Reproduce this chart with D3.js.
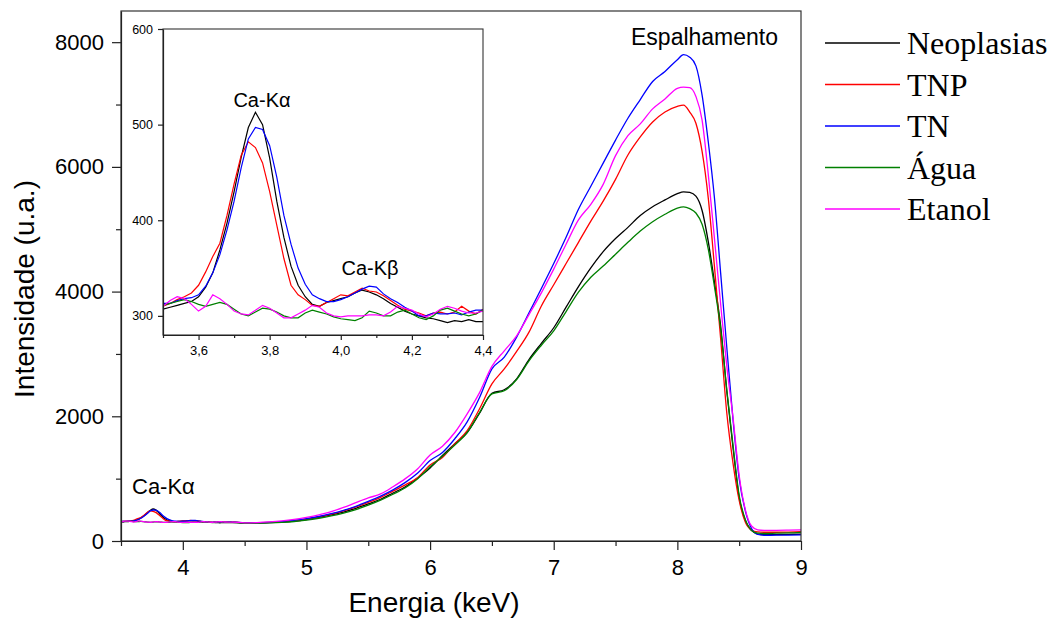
<!DOCTYPE html>
<html>
<head>
<meta charset="utf-8">
<script src="https://cdn.jsdelivr.net/npm/d3@7"></script>
<style>
html, body { margin: 0; padding: 0; background: #fff; }
svg { display: block; }
</style>
</head>
<body>
<script>
// Energy grid (keV): fine steps in the Ca region, coarser above, finer again on the edge
const energy = [
  3.50, 3.52, 3.54, 3.56, 3.58, 3.60, 3.62, 3.64, 3.66, 3.68, 3.70, 3.72, 3.74, 3.76, 3.78, 3.80,
  3.82, 3.84, 3.86, 3.88, 3.90, 3.92, 3.94, 3.96, 3.98, 4.00, 4.02, 4.04, 4.06, 4.08, 4.10, 4.12,
  4.14, 4.16, 4.18, 4.20, 4.22, 4.24, 4.26, 4.28, 4.30, 4.32, 4.34, 4.36, 4.38, 4.40,
  4.5, 4.6, 4.7, 4.8, 4.9, 5.0, 5.1, 5.2, 5.3, 5.4, 5.5, 5.6, 5.7, 5.8, 5.9, 6.0, 6.1, 6.2,
  6.3, 6.4, 6.5, 6.6, 6.7, 6.8, 6.9, 7.0, 7.1, 7.2, 7.3, 7.4, 7.5, 7.6, 7.7, 7.8, 7.9, 8.0,
  8.05, 8.10, 8.15, 8.20, 8.25, 8.30, 8.35, 8.40, 8.45, 8.50, 8.55, 8.60, 8.65, 8.70,
  8.8, 8.9, 9.0
];

const neoplasias = [
  307, 309, 311, 313, 315, 320, 330, 345, 369, 397, 430, 466, 497, 513, 500, 465,
  420, 382, 352, 332, 320, 312, 310, 314, 316, 318, 320, 324, 327, 325, 322, 318,
  313, 309, 305, 302, 300, 298, 297, 295, 293, 295, 294, 296, 294, 294,
  288, 290, 295, 305, 320, 345, 378, 418, 465, 525, 595, 670, 770, 870, 1010, 1170, 1370, 1560,
  1740, 2050, 2370, 2425, 2600, 2910, 3170, 3420, 3750, 4080, 4380, 4640, 4850, 5030, 5220, 5360, 5470, 5570,
  5600, 5590, 5530, 5300, 4800, 4150, 3450, 2400, 1500, 700, 330, 170, 112, 102,
  103, 105, 108
];
const tnp = [
  310, 313, 317, 320, 324, 332, 346, 362, 376, 405, 438, 468, 482, 476, 460, 430,
  395, 360, 332, 322, 317, 311, 310, 314, 318, 322, 321, 325, 329, 326, 325, 321,
  316, 311, 307, 305, 303, 300, 303, 304, 302, 304, 310, 305, 302, 307,
  290, 292, 298, 310, 327, 352, 388, 430, 483, 548, 620, 700, 800, 900, 1020, 1220, 1340, 1560,
  1770, 2120, 2520, 2760, 3040, 3350, 3770, 4110, 4450, 4790, 5130, 5450, 5800, 6190, 6480, 6720, 6880, 6970,
  6990, 6880, 6700, 6250, 5500, 4400, 3250, 2050, 1250, 650, 300, 175, 145, 140,
  140, 143, 148
];
const tn = [
  313, 313, 316, 318, 319, 322, 331, 345, 364, 390, 420, 455, 485, 497, 495, 478,
  445, 405, 375, 350, 333, 322, 318, 315, 315, 317, 320, 324, 328, 331, 330, 323,
  318, 314, 309, 305, 300, 300, 303, 302, 302, 303, 301, 304, 306, 306,
  290, 293, 300, 312, 330, 358, 393, 438, 492, 557, 635, 720, 820, 940, 1090, 1290, 1420, 1640,
  1910, 2300, 2760, 2950, 3270, 3660, 4050, 4450, 4870, 5320, 5690, 6060, 6430, 6780, 7080, 7370, 7530, 7720,
  7800, 7760, 7620, 7150, 6400, 5500, 4300, 3100, 1950, 1000, 480, 200, 105, 92,
  93, 95, 98
];
const agua = [
  311, 313, 315, 317, 315, 312, 310, 312, 314, 312, 307, 302, 300, 304, 308, 307,
  304, 300, 298, 298, 303, 306, 304, 302, 299, 297, 296, 295, 298, 305, 303, 300,
  300, 304, 306, 302, 298, 296, 300, 306, 308, 305, 302, 300, 302, 306,
  285, 287, 292, 300, 313, 335, 365, 402, 448, 505, 575, 655, 750, 855, 1000, 1190, 1360, 1540,
  1740, 2060, 2360, 2410, 2590, 2890, 3140, 3370, 3680, 3990, 4230, 4410, 4600, 4790, 4970, 5120, 5240, 5340,
  5360, 5330, 5260, 5080, 4680, 4080, 3400, 2420, 1540, 730, 340, 170, 125, 120,
  125, 130, 140
];
const etanol = [
  310, 316, 320, 318, 312, 305, 310, 322, 318, 312, 305, 302, 301, 306, 311, 308,
  303, 298, 298, 302, 306, 311, 309, 303, 300, 299, 300, 300, 300, 301, 301, 300,
  304, 310, 308, 306, 302, 299, 302, 307, 310, 308, 305, 303, 303, 305,
  292, 296, 306, 322, 346, 380, 420, 470, 538, 615, 690, 755, 870, 1000, 1160, 1380, 1520, 1740,
  2040, 2380, 2800, 3050, 3290, 3630, 3980, 4360, 4760, 5150, 5400, 5720, 6180, 6500, 6690, 6930, 7090, 7260,
  7280, 7270, 7130, 6750, 5880, 4850, 3800, 2800, 1980, 1050, 500, 240, 180, 172,
  172, 175, 180
];

const seriesNames = ["Neoplasias", "TNP", "TN", "Água", "Etanol"];
const seriesValues = [neoplasias, tnp, tn, agua, etanol];
const seriesColors = ["#000000", "#ff0000", "#0000ff", "#008000", "#ff00ff"];

const xTicks = [4, 5, 6, 7, 8, 9];
const xMinor = [3.5, 4.5, 5.5, 6.5, 7.5, 8.5];
const yTicks = [0, 2000, 4000, 6000, 8000];
const yMinor = [1000, 3000, 5000, 7000];
const insetXTicks = [3.6, 3.8, 4.0, 4.2, 4.4];
const insetXMinor = [3.5, 3.7, 3.9, 4.1, 4.3];
const insetYTicks = [300, 400, 500, 600];

const width = 1058, height = 620;
const sans = "'Liberation Sans', Arial, sans-serif";
const serif = "'Liberation Serif', 'Times New Roman', serif";

const svg = d3.select("body").append("svg")
    .attr("width", width)
    .attr("height", height);

const series = seriesNames.map((name, i) => ({
    name: name,
    color: seriesColors[i],
    points: energy.map((e, j) => [e, seriesValues[i][j]])
}));

// Main plot
const m = {left: 121, right: 801, top: 11, bottom: 541};
const x = d3.scaleLinear().domain([3.5, 9]).range([m.left, m.right]);
const y = d3.scaleLinear().domain([0, 8500]).range([m.bottom, m.top]);

svg.append("clipPath").attr("id", "clip-main")
    .append("rect")
    .attr("x", m.left).attr("y", m.top)
    .attr("width", m.right - m.left).attr("height", m.bottom - m.top);

const mainLine = d3.line()
    .x(d => x(d[0]))
    .y(d => y(d[1]))
    .curve(d3.curveMonotoneX);

svg.append("g")
    .attr("clip-path", "url(#clip-main)")
    .selectAll("path")
    .data(series)
    .enter()
    .append("path")
    .attr("d", d => mainLine(d.points))
    .attr("fill", "none")
    .attr("stroke", d => d.color)
    .attr("stroke-width", 1.3);

// frame
svg.append("rect")
    .attr("x", m.left).attr("y", m.top)
    .attr("width", m.right - m.left).attr("height", m.bottom - m.top)
    .attr("fill", "none")
    .attr("stroke", "#333")
    .attr("stroke-width", 1.2);

function styleAxis(g, size) {
    g.select(".domain").attr("stroke", "#222").attr("stroke-width", 1.2);
    g.selectAll(".tick line").attr("stroke", "#222").attr("stroke-width", 1.2);
    g.selectAll(".tick text")
        .style("font-family", sans)
        .style("font-size", size + "px")
        .attr("fill", "#000");
}

const gx = svg.append("g")
    .attr("transform", `translate(0,${m.bottom})`)
    .call(d3.axisBottom(x).tickValues(xTicks).tickSize(9).tickSizeOuter(0).tickPadding(9).tickFormat(d3.format("d")));
styleAxis(gx, 22);
const gxm = svg.append("g")
    .attr("transform", `translate(0,${m.bottom})`)
    .call(d3.axisBottom(x).tickValues(xMinor).tickSize(5).tickSizeOuter(0).tickFormat(""));
gxm.select(".domain").remove();
styleAxis(gxm, 22);

const gy = svg.append("g")
    .attr("transform", `translate(${m.left},0)`)
    .call(d3.axisLeft(y).tickValues(yTicks).tickSize(9).tickSizeOuter(0).tickPadding(8).tickFormat(d3.format("d")));
styleAxis(gy, 22);
const gym = svg.append("g")
    .attr("transform", `translate(${m.left},0)`)
    .call(d3.axisLeft(y).tickValues(yMinor).tickSize(5).tickSizeOuter(0).tickFormat(""));
gym.select(".domain").remove();
styleAxis(gym, 22);

svg.append("text")
    .attr("x", 434).attr("y", 612)
    .attr("text-anchor", "middle")
    .style("font-family", sans).style("font-size", "28px")
    .text("Energia (keV)");

svg.append("text")
    .attr("transform", "translate(34,289) rotate(-90)")
    .attr("text-anchor", "middle")
    .style("font-family", sans).style("font-size", "28px")
    .text("Intensidade (u.a.)");

svg.append("text")
    .attr("x", 631).attr("y", 45)
    .style("font-family", sans).style("font-size", "23px")
    .text("Espalhamento");

svg.append("text")
    .attr("x", 132).attr("y", 494)
    .style("font-family", sans).style("font-size", "22px")
    .text("Ca-Kα");

// Inset
const im = {left: 163, right: 483, top: 29, bottom: 335};
const x2 = d3.scaleLinear().domain([3.5, 4.4]).range([im.left, im.right]);
const y2 = d3.scaleLinear().domain([280, 600]).range([im.bottom, im.top]);

svg.append("rect")
    .attr("x", im.left).attr("y", im.top)
    .attr("width", im.right - im.left).attr("height", im.bottom - im.top)
    .attr("fill", "#fff");

svg.append("clipPath").attr("id", "clip-inset")
    .append("rect")
    .attr("x", im.left).attr("y", im.top)
    .attr("width", im.right - im.left).attr("height", im.bottom - im.top);

const insetLine = d3.line()
    .x(d => x2(d[0]))
    .y(d => y2(d[1]));

svg.append("g")
    .attr("clip-path", "url(#clip-inset)")
    .selectAll("path")
    .data(series)
    .enter()
    .append("path")
    .attr("d", d => insetLine(d.points.filter(p => p[0] <= 4.401)))
    .attr("fill", "none")
    .attr("stroke", d => d.color)
    .attr("stroke-width", 1.2);

svg.append("rect")
    .attr("x", im.left).attr("y", im.top)
    .attr("width", im.right - im.left).attr("height", im.bottom - im.top)
    .attr("fill", "none")
    .attr("stroke", "#333")
    .attr("stroke-width", 1.1);

const commaFmt = d => d3.format(".1f")(d).replace(".", ",");

const ix = svg.append("g")
    .attr("transform", `translate(0,${im.bottom})`)
    .call(d3.axisBottom(x2).tickValues(insetXTicks).tickSize(5).tickSizeOuter(0).tickPadding(6).tickFormat(commaFmt));
styleAxis(ix, 13);
const ixm = svg.append("g")
    .attr("transform", `translate(0,${im.bottom})`)
    .call(d3.axisBottom(x2).tickValues(insetXMinor).tickSize(3).tickSizeOuter(0).tickFormat(""));
ixm.select(".domain").remove();
styleAxis(ixm, 13);

const iy = svg.append("g")
    .attr("transform", `translate(${im.left},0)`)
    .call(d3.axisLeft(y2).tickValues(insetYTicks).tickSize(5).tickSizeOuter(0).tickPadding(5).tickFormat(d3.format("d")));
styleAxis(iy, 12.5);

svg.append("text")
    .attr("x", 262).attr("y", 107)
    .attr("text-anchor", "middle")
    .style("font-family", sans).style("font-size", "20px")
    .text("Ca-Kα");

svg.append("text")
    .attr("x", 370).attr("y", 275)
    .attr("text-anchor", "middle")
    .style("font-family", sans).style("font-size", "20px")
    .text("Ca-Kβ");

// Legend
const legend = svg.append("g")
    .selectAll("g")
    .data(series)
    .enter()
    .append("g")
    .attr("transform", (d, i) => `translate(825,${43 + i * 41.5})`);

legend.append("line")
    .attr("x1", 0).attr("x2", 75)
    .attr("stroke", d => d.color)
    .attr("stroke-width", 1.3);

legend.append("text")
    .attr("x", 82).attr("y", 11)
    .style("font-family", serif).style("font-size", "32px")
    .text(d => d.name);
</script>
</body>
</html>
